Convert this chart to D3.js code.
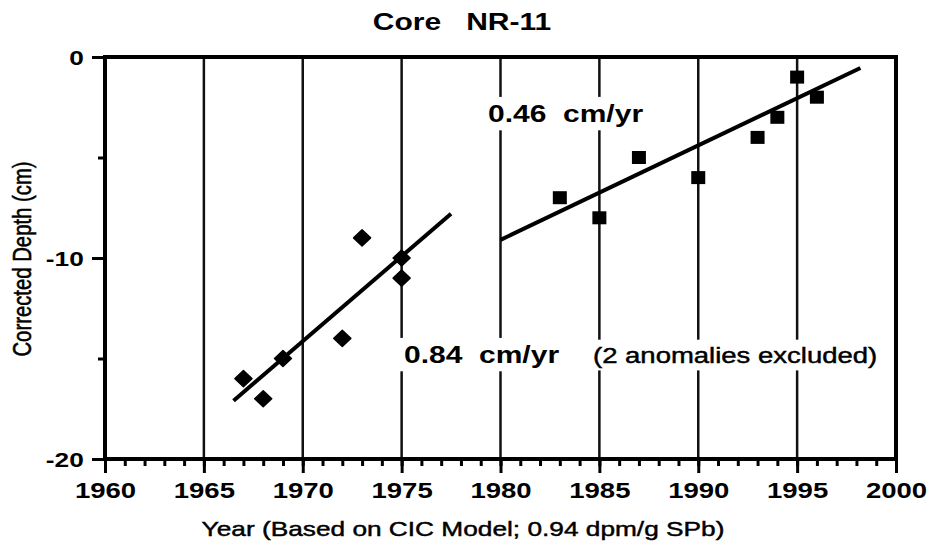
<!DOCTYPE html>
<html>
<head>
<meta charset="utf-8">
<script src="https://cdn.jsdelivr.net/npm/d3@7"></script>
<style>
  body { margin: 0; background: #fff; }
  text { font-family: "Liberation Sans", Arial, Helvetica, sans-serif; fill: #000; }
</style>
</head>
<body>
<svg id="chart" width="933" height="548"></svg>
<script>
// core NR-11, depth vs year
const diamondYears = [1967, 1968, 1969, 1972, 1973, 1975, 1975]
const diamondDepth = [-16, -17, -15, -14, -9, -10, -11]
const squareYears = [1983, 1985, 1987, 1990, 1993, 1994, 1995, 1996]
const squareDepth = [-7, -8, -5, -6, -4, -3, -1, -2]

// fitted lines, end points
const fit1Years = [1966.5, 1977.5]
const fit1Depth = [-17.1, -7.8]
const fit2Years = [1980, 1998.2]
const fit2Depth = [-9.1, -0.55]

const xMajorTicks = [1960, 1965, 1970, 1975, 1980, 1985, 1990, 1995, 2000]
const xMinorTicks = d3.range(1960, 2001)
const yMajorTicks = [0, -10, -20]
const yMinorTicks = [-5, -15]
const gridYears = [1965, 1970, 1975, 1980, 1985, 1990, 1995]

const sx = 1.25 // the scan is stretched sideways, text too

const svg = d3.select('#chart')

const x = d3.scaleLinear().domain([1960, 2000]).range([105, 896])
const y = d3.scaleLinear().domain([0, -20]).range([57, 459])

// vertical grid
svg.append('g').selectAll('line').data(gridYears).join('line')
    .attr('x1', d => x(d)).attr('x2', d => x(d))
    .attr('y1', y(0)).attr('y2', y(-20))
    .attr('stroke', '#111').attr('stroke-width', 2.5)

const label = (px, py, str, size, weight, anchor, white) => {
    const g = svg.append('g').attr('transform', `translate(${px},${py}) scale(${sx},1)`)
    const t = g.append('text')
        .attr('font-size', size).attr('font-weight', weight)
        .attr('text-anchor', anchor)
        .style('white-space', 'pre')
        .text(str)
    if (weight === 'normal') t.attr('stroke', '#000').attr('stroke-width', 0.45)
    if (white) {
        const b = t.node().getBBox()
        g.insert('rect', 'text')
            .attr('x', b.x - 4).attr('y', b.y - 3)
            .attr('width', b.width + 8).attr('height', b.height + 6)
            .attr('fill', '#fff')
    }
    return g
}

label(488, 122, '0.46  cm/yr', 24, 'bold', 'start', true)
label(404, 363, '0.84  cm/yr', 24, 'bold', 'start', true)
label(593, 363, '(2 anomalies excluded)', 22, 'normal', 'start', true)

// fit lines
const line = d3.line().x(d => x(d[0])).y(d => y(d[1]))
svg.append('path').datum(d3.zip(fit1Years, fit1Depth))
    .attr('d', line).attr('fill', 'none').attr('stroke', '#000').attr('stroke-width', 4)
svg.append('path').datum(d3.zip(fit2Years, fit2Depth))
    .attr('d', line).attr('fill', 'none').attr('stroke', '#000').attr('stroke-width', 4)

// markers
svg.append('g').selectAll('path').data(d3.zip(diamondYears, diamondDepth)).join('path')
    .attr('transform', d => `translate(${x(d[0])},${y(d[1])})`)
    .attr('d', 'M0,-8L8.5,0L0,8L-8.5,0Z')
    .attr('fill', '#000').attr('stroke', '#000').attr('stroke-width', 1.5).attr('stroke-linejoin', 'round')

svg.append('g').selectAll('rect').data(d3.zip(squareYears, squareDepth)).join('rect')
    .attr('x', d => x(d[0]) - 7).attr('y', d => y(d[1]) - 6.5)
    .attr('width', 14).attr('height', 13)
    .attr('fill', '#000')

// axes
const xMinor = d3.axisBottom(x).tickValues(xMinorTicks).tickSize(7).tickFormat('').tickSizeOuter(0)
const xMajor = d3.axisBottom(x).tickValues(xMajorTicks).tickSize(14).tickSizeOuter(0)
    .tickFormat(d => String(d))
const yMinor = d3.axisLeft(y).tickValues(yMinorTicks).tickSize(7).tickFormat('').tickSizeOuter(0)
const yMajor = d3.axisLeft(y).tickValues(yMajorTicks).tickSize(13).tickSizeOuter(0)
    .tickFormat(d => String(d))

const gx1 = svg.append('g').attr('transform', `translate(0,${y(-20)})`).call(xMinor)
const gx2 = svg.append('g').attr('transform', `translate(0,${y(-20)})`).call(xMajor)
const gy1 = svg.append('g').attr('transform', `translate(${x(1960)},0)`).call(yMinor)
const gy2 = svg.append('g').attr('transform', `translate(${x(1960)},0)`).call(yMajor)

;[gx1, gx2, gy1, gy2].forEach(g => {
    g.select('.domain').remove()
    g.selectAll('line').attr('stroke', '#000').attr('stroke-width', 3)
})

gx2.selectAll('text')
    .attr('y', 39).attr('dy', 0)
    .attr('transform', `scale(${sx},1)`)
    .attr('font-size', 22).attr('font-weight', 'bold')
    .attr('font-family', '"Liberation Sans", Arial, sans-serif')
    .attr('fill', '#000')

gy2.selectAll('text')
    .attr('x', -17).attr('dy', '0.36em')
    .attr('transform', `scale(${sx},1)`)
    .attr('font-size', 21).attr('font-weight', 'bold')
    .attr('font-family', '"Liberation Sans", Arial, sans-serif')
    .attr('fill', '#000')

// frame
svg.append('rect')
    .attr('x', x(1960)).attr('y', y(0))
    .attr('width', x(2000) - x(1960)).attr('height', y(-20) - y(0))
    .attr('fill', 'none').attr('stroke', '#000').attr('stroke-width', 4)

// titles
label(462, 30, 'Core   NR-11', 24, 'bold', 'middle', false)
label(463, 536, 'Year (Based on CIC Model; 0.94 dpm/g SPb)', 21, 'normal', 'middle', false)

svg.append('text')
    .attr('transform', `translate(31,259) scale(${sx},1) rotate(-90)`)
    .attr('text-anchor', 'middle')
    .attr('font-size', 20.3)
    .attr('stroke', '#000').attr('stroke-width', 0.45)
    .text('Corrected Depth (cm)')
</script>
</body>
</html>
